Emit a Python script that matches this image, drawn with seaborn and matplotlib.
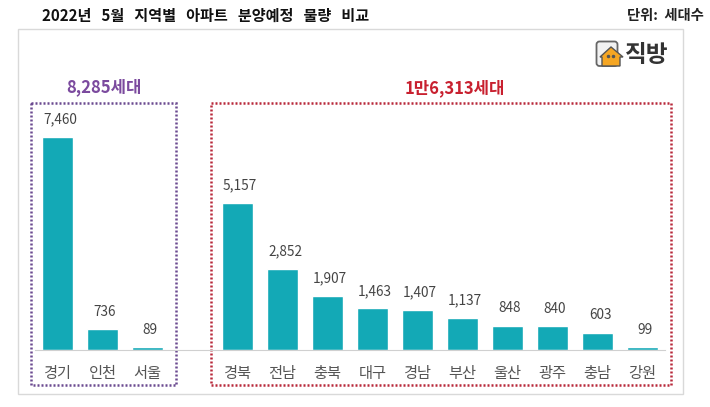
import pandas as pd
import seaborn as sns
import matplotlib.pyplot as plt
from matplotlib.patches import Rectangle, FancyBboxPatch, Polygon

# 빈 칸 하나로 두 그룹을 나눔
regions = ['경기', '인천', '서울', ' ', '경북', '전남', '충북', '대구', '경남', '부산', '울산', '광주', '충남', '강원']
units = [7460, 736, 89, None, 5157, 2852, 1907, 1463, 1407, 1137, 848, 840, 603, 99]
title = '2022년   5월   지역별   아파트   분양예정   물량   비교'
unit_label = '단위:  세대수'
group_labels = ['8,285세대', '1만6,313세대']

W, H = 710, 407
BAR = '#13A9B6'

sns.set_theme(style='white')
plt.rcParams['font.family'] = ['Noto Sans CJK KR', 'DejaVu Sans']

df = pd.DataFrame({'region': regions, 'units': units})

fig = plt.figure(figsize=(W / 100, H / 100), dpi=100)

# 픽셀 좌표용 배경 축
bg = fig.add_axes([0, 0, 1, 1])
bg.set_xlim(0, W)
bg.set_ylim(H, 0)
bg.axis('off')

ax = fig.add_axes([35 / W, (H - 350) / H, 630 / W, 250 / H])
ax.patch.set_alpha(0)
sns.barplot(data=df, x='region', y='units', order=regions, color=BAR, saturation=1,
            width=0.68, ax=ax)
ax.set_xlim(-0.5, 13.5)
ax.set_ylim(0, 8757)
ax.set_xlabel('')
ax.set_ylabel('')
ax.set_yticks([])
sns.despine(ax=ax, left=True)
ax.spines['bottom'].set_color('#d0d0d0')
ax.spines['bottom'].set_linewidth(0.8)
ax.tick_params(axis='x', length=0, pad=11, labelsize=11, labelcolor='#555555')

# 막대 위 값 표시
for i, v in enumerate(units):
    if v is None:
        continue
    ax.annotate(f'{v:,}', (i, v), xytext=(1.8, 7.5), textcoords='offset points',
                ha='center', va='bottom', fontsize=9.8, color='#444444')

# 바깥 테두리
bg.add_patch(Rectangle((17.5, 28.5), 665.5, 365, fill=False, ec='#d9d9d9', lw=1))

# 그룹 점선 박스
bg.add_patch(Rectangle((30.5, 103), 145.5, 282, fill=False, ec='#6b4a90', lw=1.8, ls=(0, (0.8, 0.8))))
bg.add_patch(Rectangle((210.5, 103), 460.5, 282, fill=False, ec='#b8283a', lw=1.8, ls=(0, (0.8, 0.8))))
bg.text(104, 87, group_labels[0], ha='center', va='center', fontsize=12, fontweight='bold', color='#7B4A9E')
bg.text(455, 88, group_labels[1], ha='center', va='center', fontsize=12, fontweight='bold', color='#C8202F')

bg.text(42, 16, title, ha='left', va='center', fontsize=10.9, fontweight='bold', color='#111111')
bg.text(627, 16, unit_label, ha='left', va='center', fontsize=10.3, fontweight='bold', color='#222222')

# 직방 로고
bg.add_patch(FancyBboxPatch((596.5, 41.5), 21, 24.5, boxstyle='round,pad=0,rounding_size=3',
                            fc='#f2f2f2', ec='#666666', lw=1.3))
bg.add_patch(Polygon([[600, 57], [611, 47], [623, 57], [620, 57], [620, 66], [602, 66], [602, 57]],
                     closed=True, fc='#F5A623', ec='#555555', lw=1))
bg.plot([608, 613], [56, 56], ls='none', marker='o', ms=1.5, color='#555555')
bg.text(647, 55, '직방', ha='center', va='center', fontsize=17, fontweight='bold', color='#333333')

fig.savefig('out.png', dpi=100)
